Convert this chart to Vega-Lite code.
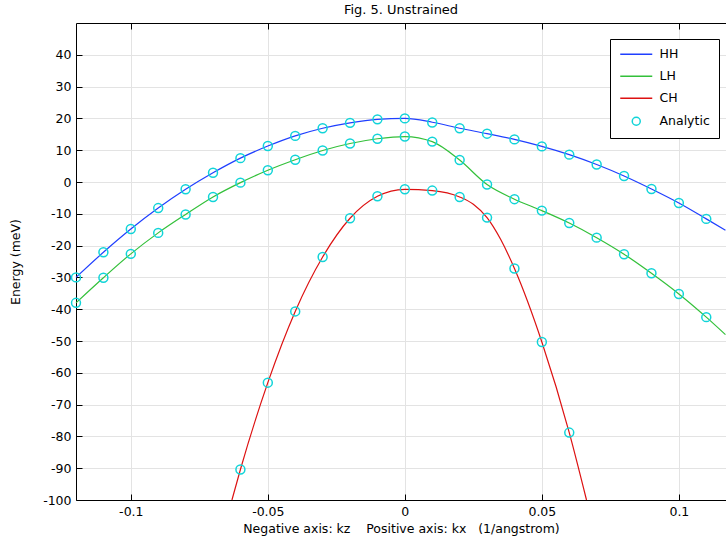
{
  "$schema": "https://vega.github.io/schema/vega-lite/v6.json",
  "autosize": {"type": "none"},
  "padding": {"left": 76, "top": 23, "right": 0, "bottom": 38},
  "width": 650,
  "height": 477,
  "background": "white",
  "title": {"text": "Fig. 5. Unstrained", "font": "DejaVu Sans", "fontSize": 13, "fontWeight": "normal", "color": "black", "offset": 6, "anchor": "middle"},
  "config": {
    "view": {"stroke": null},
    "axis": {
      "domainColor": "black", "tickColor": "black", "gridColor": "#e3e3e3", "gridWidth": 1,
      "labelColor": "black", "labelFont": "DejaVu Sans", "labelFontSize": 12.5,
      "titleColor": "black", "titleFont": "DejaVu Sans", "titleFontSize": 12.5, "titleFontWeight": "normal",
      "tickSize": -6, "labelPadding": 11
    },
    "legend": {"labelFont": "DejaVu Sans", "labelFontSize": 12.5, "labelColor": "black"}
  },
  "datasets": {
    "lines": [
      {"series": "HH", "k": -0.12, "E": -30.0}, {"series": "HH", "k": -0.11, "E": -22.1}, {"series": "HH", "k": -0.10, "E": -14.8},
      {"series": "HH", "k": -0.09, "E": -8.2}, {"series": "HH", "k": -0.08, "E": -2.3}, {"series": "HH", "k": -0.07, "E": 2.9},
      {"series": "HH", "k": -0.06, "E": 7.5}, {"series": "HH", "k": -0.05, "E": 11.3}, {"series": "HH", "k": -0.04, "E": 14.5},
      {"series": "HH", "k": -0.03, "E": 16.9}, {"series": "HH", "k": -0.02, "E": 18.6}, {"series": "HH", "k": -0.01, "E": 19.7},
      {"series": "HH", "k": 0.0, "E": 20.0}, {"series": "HH", "k": 0.01, "E": 18.8}, {"series": "HH", "k": 0.02, "E": 16.9},
      {"series": "HH", "k": 0.03, "E": 15.2}, {"series": "HH", "k": 0.04, "E": 13.4}, {"series": "HH", "k": 0.05, "E": 11.2},
      {"series": "HH", "k": 0.06, "E": 8.6}, {"series": "HH", "k": 0.07, "E": 5.5}, {"series": "HH", "k": 0.08, "E": 1.9},
      {"series": "HH", "k": 0.09, "E": -2.2}, {"series": "HH", "k": 0.10, "E": -6.6}, {"series": "HH", "k": 0.11, "E": -11.6},
      {"series": "HH", "k": 0.117, "E": -15.2},
      {"series": "LH", "k": -0.12, "E": -38.0}, {"series": "LH", "k": -0.11, "E": -30.1}, {"series": "LH", "k": -0.10, "E": -22.6},
      {"series": "LH", "k": -0.09, "E": -16.0}, {"series": "LH", "k": -0.08, "E": -10.2}, {"series": "LH", "k": -0.07, "E": -4.7},
      {"series": "LH", "k": -0.06, "E": -0.2}, {"series": "LH", "k": -0.05, "E": 3.7}, {"series": "LH", "k": -0.04, "E": 7.0},
      {"series": "LH", "k": -0.03, "E": 9.9}, {"series": "LH", "k": -0.02, "E": 12.1}, {"series": "LH", "k": -0.01, "E": 13.6},
      {"series": "LH", "k": 0.0, "E": 14.3}, {"series": "LH", "k": 0.01, "E": 12.7}, {"series": "LH", "k": 0.02, "E": 6.9},
      {"series": "LH", "k": 0.03, "E": -0.8}, {"series": "LH", "k": 0.04, "E": -5.4}, {"series": "LH", "k": 0.05, "E": -9.0},
      {"series": "LH", "k": 0.06, "E": -12.9}, {"series": "LH", "k": 0.07, "E": -17.5}, {"series": "LH", "k": 0.08, "E": -22.7},
      {"series": "LH", "k": 0.09, "E": -28.7}, {"series": "LH", "k": 0.10, "E": -35.2}, {"series": "LH", "k": 0.11, "E": -42.5},
      {"series": "LH", "k": 0.117, "E": -48.0},
      {"series": "CH", "k": -0.0631, "E": -100.0}, {"series": "CH", "k": -0.06, "E": -90.4}, {"series": "CH", "k": -0.05, "E": -63.1},
      {"series": "CH", "k": -0.04, "E": -40.7}, {"series": "CH", "k": -0.03, "E": -23.6}, {"series": "CH", "k": -0.02, "E": -11.4},
      {"series": "CH", "k": -0.01, "E": -4.5}, {"series": "CH", "k": 0.0, "E": -2.3}, {"series": "CH", "k": 0.01, "E": -2.7},
      {"series": "CH", "k": 0.02, "E": -4.7}, {"series": "CH", "k": 0.025, "E": -7.0}, {"series": "CH", "k": 0.03, "E": -11.2},
      {"series": "CH", "k": 0.035, "E": -18.1}, {"series": "CH", "k": 0.04, "E": -27.2}, {"series": "CH", "k": 0.05, "E": -50.3},
      {"series": "CH", "k": 0.06, "E": -78.8}, {"series": "CH", "k": 0.0663, "E": -100.0}
    ],
    "analytic": [
      {"k": -0.12, "E": -30.0}, {"k": -0.11, "E": -22.1}, {"k": -0.10, "E": -14.8}, {"k": -0.09, "E": -8.2},
      {"k": -0.08, "E": -2.3}, {"k": -0.07, "E": 2.9}, {"k": -0.06, "E": 7.5}, {"k": -0.05, "E": 11.3},
      {"k": -0.04, "E": 14.5}, {"k": -0.03, "E": 16.9}, {"k": -0.02, "E": 18.6}, {"k": -0.01, "E": 19.7},
      {"k": 0.0, "E": 20.0}, {"k": 0.01, "E": 18.7}, {"k": 0.02, "E": 16.9}, {"k": 0.03, "E": 15.2},
      {"k": 0.04, "E": 13.4}, {"k": 0.05, "E": 11.2}, {"k": 0.06, "E": 8.6}, {"k": 0.07, "E": 5.5},
      {"k": 0.08, "E": 1.9}, {"k": 0.09, "E": -2.2}, {"k": 0.10, "E": -6.6}, {"k": 0.11, "E": -11.6},
      {"k": -0.12, "E": -38.0}, {"k": -0.11, "E": -30.1}, {"k": -0.10, "E": -22.6}, {"k": -0.09, "E": -16.0},
      {"k": -0.08, "E": -10.2}, {"k": -0.07, "E": -4.7}, {"k": -0.06, "E": -0.2}, {"k": -0.05, "E": 3.7},
      {"k": -0.04, "E": 7.0}, {"k": -0.03, "E": 9.9}, {"k": -0.02, "E": 12.1}, {"k": -0.01, "E": 13.6},
      {"k": 0.0, "E": 14.3}, {"k": 0.01, "E": 12.7}, {"k": 0.02, "E": 6.9}, {"k": 0.03, "E": -0.8},
      {"k": 0.04, "E": -5.4}, {"k": 0.05, "E": -9.0}, {"k": 0.06, "E": -12.9}, {"k": 0.07, "E": -17.5},
      {"k": 0.08, "E": -22.7}, {"k": 0.09, "E": -28.7}, {"k": 0.10, "E": -35.2}, {"k": 0.11, "E": -42.5},
      {"k": -0.06, "E": -90.4}, {"k": -0.05, "E": -63.1}, {"k": -0.04, "E": -40.7}, {"k": -0.03, "E": -23.6},
      {"k": -0.02, "E": -11.4}, {"k": -0.01, "E": -4.5}, {"k": 0.0, "E": -2.3}, {"k": 0.01, "E": -2.7},
      {"k": 0.02, "E": -4.7}, {"k": 0.03, "E": -11.2}, {"k": 0.04, "E": -27.2}, {"k": 0.05, "E": -50.3},
      {"k": 0.06, "E": -78.8}
    ]
  },
  "encoding": {
    "y": {
      "field": "E", "type": "quantitative",
      "scale": {"domain": [-100, 50], "nice": false, "zero": false},
      "axis": {
        "title": "Energy (meV)", "titlePadding": 20,
        "values": [-100, -90, -80, -70, -60, -50, -40, -30, -20, -10, 0, 10, 20, 30, 40],
        "labelExpr": "datum.value + ''", "grid": true
      }
    }
  },
  "layer": [
    {
      "data": {"name": "lines"},
      "mark": {"type": "line", "strokeWidth": 1.2, "interpolate": "monotone"},
      "encoding": {
        "x": {
          "field": "k", "type": "quantitative",
          "scale": {"domain": [-0.12, 0.1172], "nice": false, "zero": false},
          "axis": {"orient": "top", "labels": false, "title": null, "grid": false, "values": [-0.1, -0.05, 0, 0.05, 0.1], "domainColor": "black"}
        },
        "color": {
          "field": "series", "type": "nominal",
          "scale": {"domain": ["HH", "LH", "CH", "Analytic"], "range": ["#1f3fff", "#33c03a", "#dd1111", "#11d4d8"]},
          "legend": {
            "title": null, "orient": "none", "legendX": 534, "legendY": 16,
            "strokeColor": "black", "fillColor": "white", "padding": 9,
            "symbolSize": 100, "rowPadding": 9, "symbolOffset": 11, "labelOffset": 17,
            "encode": {
              "symbols": {
                "update": {
                  "shape": {"signal": "datum.value === 'Analytic' ? 'circle' : 'M-3.2,0H3.2'"},
                  "size": {"signal": "datum.value === 'Analytic' ? 64 : 100"},
                  "stroke": {"signal": "scale('color', datum.value)"},
                  "fill": {"value": "transparent"},
                  "strokeWidth": {"value": 1.5}
                }
              }
            }
          }
        }
      }
    },
    {
      "data": {"name": "analytic"},
      "mark": {"type": "point", "filled": false, "size": 80, "strokeWidth": 1.5, "opacity": 1},
      "encoding": {
        "x": {
          "field": "k", "type": "quantitative",
          "scale": {"domain": [-0.12, 0.1172], "nice": false, "zero": false},
          "axis": {
            "orient": "bottom", "grid": true, "values": [-0.1, -0.05, 0, 0.05, 0.1],
            "labelExpr": "datum.value + ''", "titlePadding": 5,
            "title": "Negative axis: kz\u00a0\u00a0\u00a0\u00a0Positive axis: kx\u00a0\u00a0\u00a0(1/angstrom)"
          }
        },
        "color": {"datum": "Analytic"}
      }
    }
  ],
  "resolve": {"axis": {"x": "independent"}}
}
